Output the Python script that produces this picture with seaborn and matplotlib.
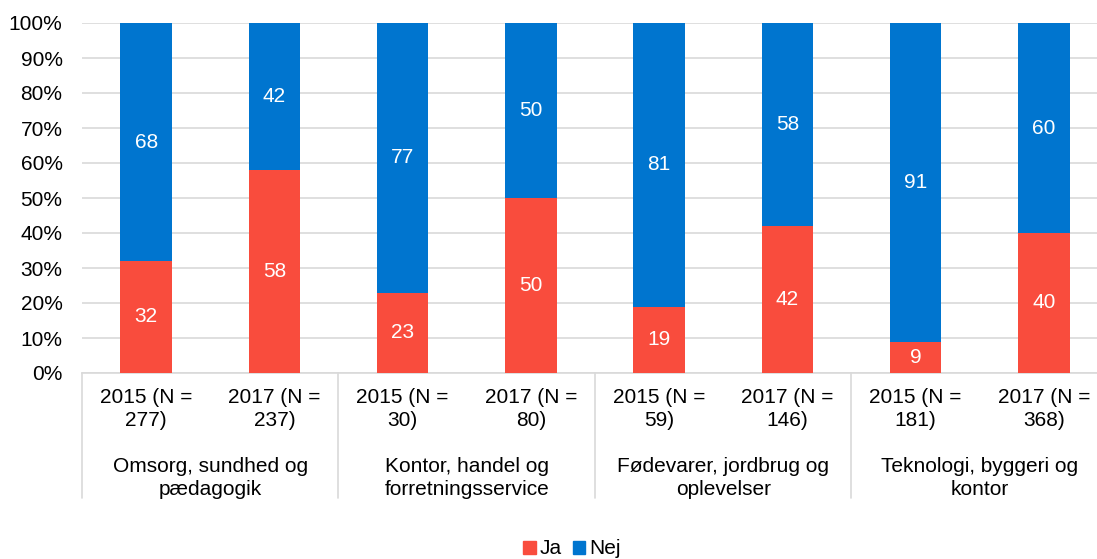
import matplotlib
matplotlib.use("Agg")
import matplotlib.pyplot as plt
import matplotlib.transforms as mtransforms
from matplotlib.patches import Patch
import pandas as pd
import seaborn as sns

# data
years = ["2015 (N =\n277)", "2017 (N =\n237)",
         "2015 (N =\n30)", "2017 (N =\n80)",
         "2015 (N =\n59)", "2017 (N =\n146)",
         "2015 (N =\n181)", "2017 (N =\n368)"]
groups = ["Omsorg, sundhed og\npædagogik", "Kontor, handel og\nforretningsservice",
          "Fødevarer, jordbrug og\noplevelser", "Teknologi, byggeri og\nkontor"]
ja = [32, 58, 23, 50, 19, 42, 9, 40]
nej = [68, 42, 77, 50, 81, 58, 91, 60]

RED = "#F94C3D"
BLUE = "#0075CF"
FS = 15

sns.set_style("white")
plt.rcParams["font.family"] = ["Liberation Sans", "DejaVu Sans"]
plt.rcParams["text.color"] = "black"
plt.rcParams["ytick.color"] = "black"

df = pd.DataFrame({"cat": [f"c{i}" for i in range(len(years))],
                   "ja": ja, "nej": nej})
df["total"] = df["ja"] + df["nej"]

fig = plt.figure(figsize=(10.97, 5.59), dpi=100)
ax = fig.add_axes([82 / 1097, 1 - 373 / 559, 1026 / 1097, 350 / 559])

# gridlines behind bars
ax.set_axisbelow(True)
ax.yaxis.grid(True, color="#D9D9D9", linewidth=1.2)

# stacked: Nej drawn as full bar, Ja over it
sns.barplot(data=df, x="cat", y="total", color=BLUE, width=0.4,
            saturation=1, linewidth=0, ax=ax, zorder=2)
sns.barplot(data=df, x="cat", y="ja", color=RED, width=0.4,
            saturation=1, linewidth=0, ax=ax, zorder=3)

# value labels centred in each segment
for i, (j, n) in enumerate(zip(ja, nej)):
    ax.text(i, j / 2, str(j), ha="center", va="center", color="white",
            fontsize=FS, zorder=4)
    ax.text(i, j + n / 2, str(n), ha="center", va="center", color="white",
            fontsize=FS, zorder=4)

ax.set_ylim(0, 100)
ax.set_xlim(-0.5, len(years) - 0.5)
ax.set_yticks(range(0, 101, 10))
ax.set_yticklabels([f"{v}%" for v in range(0, 101, 10)], fontsize=FS)
ax.tick_params(axis="y", length=0, pad=14)
ax.set_xlabel("")
ax.set_ylabel("")
ax.set_xticks(range(len(years)))
ax.set_xticklabels([])
ax.tick_params(axis="x", length=0)
for s in ["top", "right", "left"]:
    ax.spines[s].set_visible(False)
ax.spines["bottom"].set_color("#D9D9D9")
ax.spines["bottom"].set_linewidth(1.2)

# two-level category axis
trans = mtransforms.blended_transform_factory(ax.transData, fig.transFigure)
for i, lab in enumerate(years):
    ax.text(i, 1 - 409 / 559, lab, ha="center", va="center", fontsize=FS,
            transform=trans, linespacing=1.22)
for g, lab in enumerate(groups):
    ax.text(2 * g + 0.5, 1 - 478 / 559, lab, ha="center", va="center",
            fontsize=FS, transform=trans, linespacing=1.28)
for x in [-0.5, 1.5, 3.5, 5.5, 7.5]:
    ax.plot([x, x], [1 - 373 / 559, 1 - 498 / 559], color="#D9D9D9",
            linewidth=1.2, transform=trans, clip_on=False)

handles = [Patch(color=RED, label="Ja"), Patch(color=BLUE, label="Nej")]
fig.legend(handles=handles, loc="center", bbox_to_anchor=(572 / 1097, 1 - 549 / 559),
           ncol=2, frameon=False, fontsize=FS, handlelength=0.6,
           handleheight=0.6, handletextpad=0.2, columnspacing=0.5)

fig.savefig("out.png", dpi=100)
